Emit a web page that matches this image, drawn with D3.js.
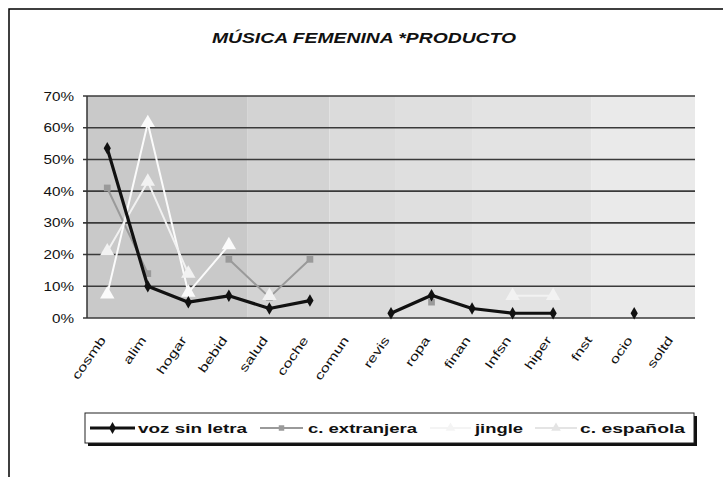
<!DOCTYPE html>
<html><head><meta charset="utf-8">
<script src="https://cdn.jsdelivr.net/npm/d3@7"></script>
<style>body{margin:0;background:#fff}svg{display:block}text{font-family:"Liberation Sans",Arial,sans-serif}</style>
</head><body><svg id="c" width="723" height="477"></svg>
<script>
const categories = ["cosmb","alim","hogar","bebid","salud","coche","comun","revis","ropa","finan","Infsn","hiper","fnst","ocio","soltd"];
const vozSinLetra = [53.5,10,5,7,3,5.5,null,1.5,7.2,3,1.5,1.5,null,1.5,null];
const cExtranjera = [41,14,null,18.5,6.5,18.5,null,null,5,null,null,null,null,null,null];
const jingle = [7.5,61.5,8,23,null,null,null,null,null,null,null,null,null,null,null];
const cEspanola = [21,43,14,null,7,null,null,null,null,null,null,null,null,null,null];
const cEspanola2 = [null,null,null,null,null,null,null,null,null,null,7,7,null,null,null];
const yTicks = [0,10,20,30,40,50,60,70];
const bandEdges = [0,3.95,5.98,7.6,9.5,12.45,15];
const bandColors = ["#c9c9c9","#d3d3d3","#dbdbdb","#dfdfdf","#e3e3e3","#eaeaea"];

const svg = d3.select("#c");
const L=87,R=695,T=96,B=318;
const x = d3.scaleBand().domain(categories).range([L,R]);
const xi = d3.scaleLinear().domain([0,15]).range([L,R]);
const y = d3.scaleLinear().domain([0,70]).range([B,T]);
function stretch(sel, f){ sel.each(function(){ const w=this.getComputedTextLength(); d3.select(this).attr("textLength",w*f).attr("lengthAdjust","spacingAndGlyphs"); }); }

// outer frame
svg.append("path").attr("d","M9,477V9H723").attr("fill","none").attr("stroke","#000").attr("stroke-width",1.5);

svg.append("text").attr("x",364).attr("y",43).attr("text-anchor","middle")
  .attr("font-size",14).attr("font-weight","bold").attr("font-style","italic").attr("fill","#111")
  .text("MÚSICA FEMENINA *PRODUCTO").call(stretch,1.38);

// bands
svg.selectAll("rect.band").data(bandColors).join("rect").attr("class","band")
  .attr("x",(d,i)=>xi(bandEdges[i])).attr("width",(d,i)=>xi(bandEdges[i+1])-xi(bandEdges[i]))
  .attr("y",T).attr("height",B-T).attr("fill",d=>d);

// gridlines
svg.append("g").selectAll("line").data(yTicks).join("line")
  .attr("x1",L-4).attr("x2",R).attr("y1",d=>y(d)).attr("y2",d=>y(d))
  .attr("stroke","#3a3a3a").attr("stroke-width",1.6);
svg.append("line").attr("x1",L).attr("x2",L).attr("y1",T).attr("y2",B).attr("stroke","#333").attr("stroke-width",1.5);

// y axis labels
const yax = svg.append("g").attr("transform",`translate(${L},0)`)
  .call(d3.axisLeft(y).tickValues(yTicks).tickFormat(d=>d+"%").tickSize(0).tickPadding(13));
yax.select(".domain").remove();
yax.selectAll("text").attr("font-size",12.5).attr("fill","#111").attr("font-family","Liberation Sans, Arial, sans-serif").call(stretch,1.22);

// x axis labels
const xax = svg.append("g").attr("transform",`translate(0,${B})`)
  .call(d3.axisBottom(x).tickSize(0).tickPadding(0));
xax.select(".domain").remove();
xax.selectAll("text").attr("font-size",12).attr("fill","#111")
  .attr("font-family","Liberation Sans, Arial, sans-serif")
  .attr("text-anchor","end").attr("dy",null)
  .attr("transform","translate(-1,22) rotate(-55)").call(stretch,1.4);

const cx = (d,i)=>x(categories[i])+x.bandwidth()/2;
function series(vals, color, width, marker, msize){
  const line = d3.line().defined(d=>d!=null).x((d,i)=>cx(d,i)).y(d=>y(d));
  svg.append("path").datum(vals).attr("d",line).attr("fill","none")
    .attr("stroke",color).attr("stroke-width",width).attr("stroke-linejoin","round");
  const pts = vals.map((v,i)=>({v,i})).filter(p=>p.v!=null);
  svg.append("g").selectAll("path").data(pts).join("path")
    .attr("transform",p=>`translate(${cx(p.v,p.i)},${y(p.v)})`)
    .attr("d",d3.symbol().type(marker).size(msize)).attr("fill",color);
}
series(cExtranjera,"#9a9a9a",2,d3.symbolSquare,45);
series(jingle,"#fbfbfb",2,d3.symbolTriangle,90);
series(cEspanola,"#f2f2f2",2,d3.symbolTriangle,90);
series(cEspanola2,"#f2f2f2",2,d3.symbolTriangle,90);
series(vozSinLetra,"#111",3.2,d3.symbolDiamond,45);

// legend
const lg = svg.append("g");
lg.append("rect").attr("x",88).attr("y",416).attr("width",609).attr("height",30).attr("fill","#111");
lg.append("rect").attr("x",85).attr("y",413).attr("width",609).attr("height",30).attr("fill","#fff").attr("stroke","#222").attr("stroke-width",1);
const legendItems = [
  {name:"voz sin letra",color:"#111",w:3,m:d3.symbolDiamond,s:40,x1:90,x2:135,tx:138,tw:109},
  {name:"c. extranjera",color:"#9a9a9a",w:2,m:d3.symbolSquare,s:30,x1:260,x2:303,tx:308,tw:109},
  {name:"jingle",color:"#f4f4f4",w:2,m:d3.symbolTriangle,s:40,x1:430,x2:471,tx:475,tw:48},
  {name:"c. española",color:"#e4e4e4",w:2,m:d3.symbolTriangle,s:40,x1:535,x2:577,tx:580,tw:105}
];
const li = lg.selectAll("g.li").data(legendItems).join("g").attr("class","li");
li.append("line").attr("x1",d=>d.x1).attr("x2",d=>d.x2).attr("y1",428).attr("y2",428)
  .attr("stroke",d=>d.color).attr("stroke-width",d=>d.w);
li.append("path").attr("transform",d=>`translate(${(d.x1+d.x2)/2},428)`)
  .attr("d",d=>d3.symbol().type(d.m).size(d.s)()).attr("fill",d=>d.color);
li.append("text").attr("x",d=>d.tx).attr("y",432.5).attr("font-size",13).attr("font-weight","bold").attr("fill","#111")
  .attr("textLength",d=>d.tw).attr("lengthAdjust","spacingAndGlyphs").text(d=>d.name);
</script></body></html>
